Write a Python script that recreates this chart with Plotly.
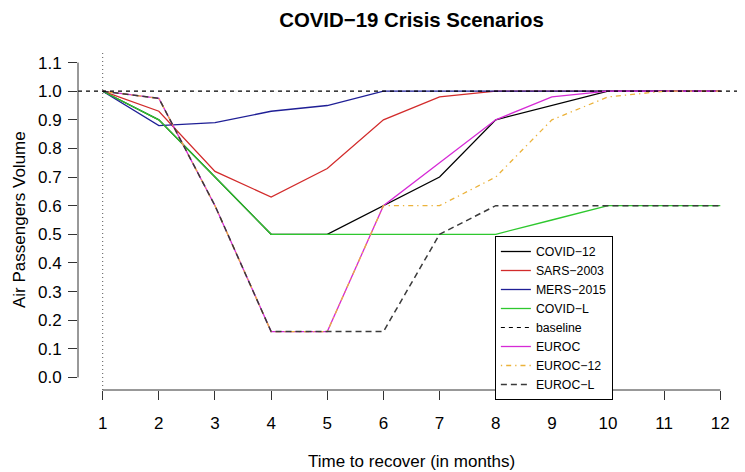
import plotly.graph_objects as go

months = list(range(1, 13))
x_ticks = list(range(1, 13))
y_ticks = [round(i * 0.1, 1) for i in range(0, 12)]

covid_12 = [1.0, 0.90, 0.70, 0.50, 0.50, 0.60, 0.70, 0.90, 0.95, 1.0, 1.0, 1.0]
sars_2003 = [1.0, 0.93, 0.72, 0.63, 0.73, 0.90, 0.98, 1.0, 1.0, 1.0, 1.0, 1.0]
mers_2015 = [1.0, 0.88, 0.89, 0.93, 0.95, 1.0, 1.0, 1.0, 1.0, 1.0, 1.0, 1.0]
covid_l = [1.0, 0.90, 0.70, 0.50, 0.50, 0.50, 0.50, 0.50, 0.55, 0.60, 0.60, 0.60]
baseline_level = 1.0
euroc = [1.0, 0.975, 0.60, 0.16, 0.16, 0.60, 0.75, 0.90, 0.98, 1.0, 1.0, 1.0]
euroc_12 = [1.0, 0.975, 0.60, 0.16, 0.16, 0.60, 0.60, 0.70, 0.90, 0.98, 1.0, 1.0]
euroc_l = [1.0, 0.975, 0.60, 0.16, 0.16, 0.16, 0.50, 0.60, 0.60, 0.60, 0.60, 0.60]

FONT = "Liberation Sans, Arial, Helvetica, sans-serif"
W = 1.3

# page has an 8px body margin; figure is sized so the plot lands where the reference has it
FIG_W, FIG_H = 737, 464
ML, MR, MT, MB = 70, 0, 42, 82
PLOT_W = FIG_W - ML - MR
PLOT_H = FIG_H - MT - MB

fig = go.Figure()

def add(name, y, color, dash="solid", width=W):
    fig.add_trace(go.Scatter(x=months, y=y, mode="lines", name=name,
                             line=dict(color=color, width=width, dash=dash)))

add("COVID−12", covid_12, "black")
add("SARS−2003", sars_2003, "#D22B2B")
add("MERS−2015", mers_2015, "#1F1F96")
add("COVID−L", covid_l, "#2EC82E")
fig.add_trace(go.Scatter(x=[None], y=[None], mode="lines", name="baseline",
                         line=dict(color="black", width=1.2, dash="4px,4px")))
add("EUROC", euroc, "#D62AD6")
add("EUROC−12", euroc_12, "#EBB23A", dash="1.3px,4px,5px,4px")
add("EUROC−L", euroc_l, "#3A3A3A", dash="6px,4px", width=1.5)

fig.add_hline(y=baseline_level, line=dict(color="black", width=1.2, dash="4px,4px"))
fig.add_vline(x=months[0], line=dict(color="#555555", width=1, dash="1px,3px"))

axis_color = "#333333"
# R-style axis lines spanning only the tick range
fig.add_shape(type="line", xref="x", yref="paper", x0=min(x_ticks), x1=max(x_ticks),
              y0=0, y1=0, line=dict(color=axis_color, width=1))
fig.add_shape(type="line", xref="paper", yref="y", x0=0, x1=0,
              y0=min(y_ticks), y1=max(y_ticks), line=dict(color=axis_color, width=1))

fig.update_layout(
    width=FIG_W, height=FIG_H,
    margin=dict(l=ML, r=MR, t=MT, b=MB),
    paper_bgcolor="white", plot_bgcolor="white",
    font=dict(family=FONT, color="black", size=17),
    showlegend=True,
    legend=dict(x=0.625, y=(PLOT_H + MT - 228) / PLOT_H, xanchor="left", yanchor="top",
                bordercolor="black", borderwidth=1, bgcolor="white",
                font=dict(size=12.3, family=FONT)),
    title=dict(text="<b>COVID−19 Crisis Scenarios</b>", x=0.5, xref="paper",
               y=1 - 12 / FIG_H, yref="container", yanchor="middle",
               font=dict(size=20.4, family=FONT)),
    xaxis=dict(range=[0.56, 12.44], tickvals=x_ticks, ticktext=[str(v) for v in x_ticks],
               ticks="outside", ticklen=9, tickcolor=axis_color, showgrid=False,
               zeroline=False, showline=False, ticklabelstandoff=9),
    yaxis=dict(range=[-0.044, 1.144], tickvals=y_ticks, ticktext=[f"{v:.1f}" for v in y_ticks],
               ticks="outside", ticklen=9, tickcolor=axis_color, showgrid=False,
               zeroline=False, showline=False, ticklabelstandoff=3),
    annotations=[
        dict(text="Time to recover (in months)", xref="paper", yref="paper",
             x=0.5, y=-(454 - (MT + PLOT_H)) / PLOT_H, xanchor="center", yanchor="middle",
             showarrow=False, font=dict(size=17, family=FONT)),
        dict(text="Air Passengers Volume", xref="paper", yref="paper",
             x=(11 - ML) / PLOT_W, y=0.5, xanchor="center", yanchor="middle",
             textangle=-90, showarrow=False, font=dict(size=17, family=FONT)),
    ],
)

fig.write_html("out.html")
